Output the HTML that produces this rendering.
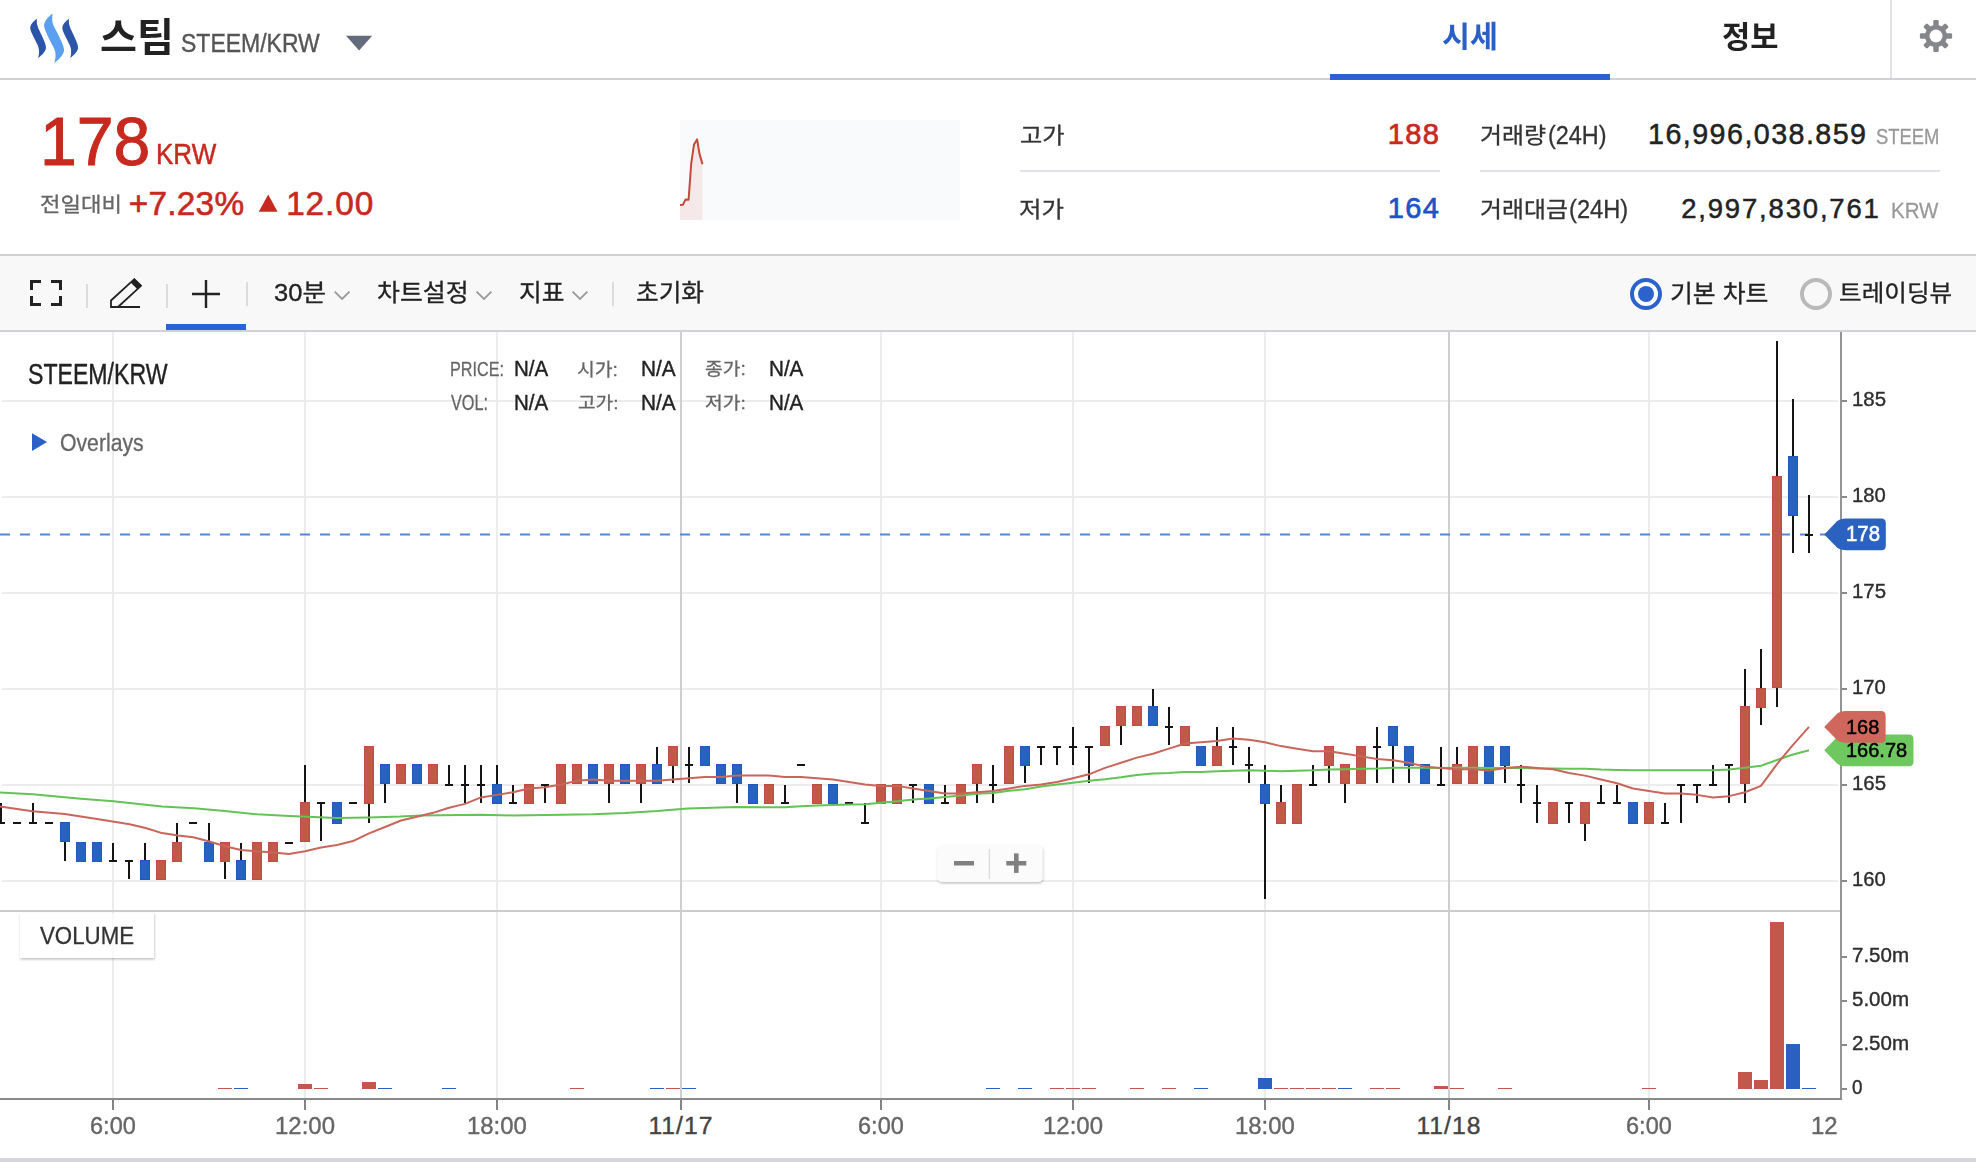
<!DOCTYPE html>
<html lang="ko">
<head>
<meta charset="utf-8">
<title>스팀 STEEM/KRW</title>
<style>
*{box-sizing:border-box;margin:0;padding:0}
html,body{width:1976px;height:1162px;overflow:hidden;background:#fff}
body{position:relative;font-family:"Liberation Sans","Noto Sans CJK KR",sans-serif;color:#222}
.a{position:absolute;white-space:nowrap;line-height:1;transform-origin:0 0}
.hl{position:absolute;left:0;width:1976px;height:2px;background:#d0d1d8}
#tb{position:absolute;left:0;top:256px;width:1976px;height:74px;background:#f8f8f8}
.sep{position:absolute;width:2px;background:#dcdcdc}
.dv{position:absolute;height:2px;background:#e1e3e9}
svg{position:absolute;left:0;top:0}
#xax{position:absolute;left:0;top:1100px;width:1839px;height:58px;overflow:hidden}
#xax .a{margin-top:-1100px}
</style>
</head>
<body>
<!-- header -->
<svg width="90" height="78" viewBox="0 0 90 78">
 <path id="lw" d="M36.9 18.8 C33.2 21.4 30.4 24.6 30.2 27.6 C30 30.5 33.2 36 37.6 45 C39.4 48.8 39.5 53 38.2 57.9 C41.8 55.2 45.2 51.6 45.9 48.4 C46.6 45 43 38 38.4 28.4 C37 25.4 36.5 22.4 36.9 18.8Z" fill="#2a55a8"/>
 <path d="M52.6 13.6 C48 17 44.5 21 44.1 25 C43.8 28.6 47.4 35.6 53.6 47.4 C56.2 52.6 56 57.6 54.2 63.1 C59 59.6 63.2 55 64 51 C64.8 46.8 60 38 53.8 26.2 C52 22.4 51.9 18.2 52.6 13.6Z" fill="#5b9ff0"/>
 <path d="M36.9 18.8 C33.2 21.4 30.4 24.6 30.2 27.6 C30 30.5 33.2 36 37.6 45 C39.4 48.8 39.5 53 38.2 57.9 C41.8 55.2 45.2 51.6 45.9 48.4 C46.6 45 43 38 38.4 28.4 C37 25.4 36.5 22.4 36.9 18.8Z" fill="#2a55a8" transform="translate(32.1 0)"/>
</svg>
<div class="a" id="t_name" style="left:99.9px;top:18.6px;font-size:38.51px;color:#222;font-weight:700;transform:scaleX(1.0431)">스팀</div>
<div class="a" id="t_pair" style="left:180.96px;top:30.13px;font-size:26.23px;color:#555;transform:scaleX(0.8770);-webkit-text-stroke:0.4px #555">STEEM/KRW</div>
<div class="a" id="t_tab1" style="left:1441.69px;top:22.29px;font-size:29.62px;color:#2a5fc8;font-weight:700;transform:scaleX(1.0275)">시세</div>
<div class="a" id="t_tab2" style="left:1721.58px;top:21.75px;font-size:30.65px;color:#222;font-weight:700;transform:scaleX(1.0021)">정보</div>
<svg width="30" height="18" style="left:344px;top:34px"><path d="M2 1.8 H28.2 L15.1 16.4 Z" fill="#646b7c"/></svg>
<div style="position:absolute;left:1330px;top:74px;width:280px;height:6px;background:#2a62d0;z-index:2"></div>
<div class="sep" style="left:1890px;top:0;height:78px;background:#e2e2e8"></div>
<svg width="40" height="40" viewBox="-20 -20 40 40" style="left:1916px;top:16px">
 <defs><filter id="gb" x="-20%" y="-20%" width="140%" height="140%"><feGaussianBlur stdDeviation="0.45"/></filter>
 <mask id="gm"><rect x="-20" y="-20" width="40" height="40" fill="#fff"/><circle r="6.5" fill="#000"/></mask></defs>
 <g fill="#84868c" filter="url(#gb)" mask="url(#gm)"><circle r="11"/><rect x="-2.7" y="-16.1" width="5.4" height="8" rx="1.3" transform="rotate(0)"/><rect x="-2.7" y="-15.6" width="5.4" height="8" rx="1.3" transform="rotate(45)"/><rect x="-2.7" y="-16.1" width="5.4" height="8" rx="1.3" transform="rotate(90)"/><rect x="-2.7" y="-15.6" width="5.4" height="8" rx="1.3" transform="rotate(135)"/><rect x="-2.7" y="-16.1" width="5.4" height="8" rx="1.3" transform="rotate(180)"/><rect x="-2.7" y="-15.6" width="5.4" height="8" rx="1.3" transform="rotate(225)"/><rect x="-2.7" y="-16.1" width="5.4" height="8" rx="1.3" transform="rotate(270)"/><rect x="-2.7" y="-15.6" width="5.4" height="8" rx="1.3" transform="rotate(315)"/></g>
</svg>
<div class="hl" style="top:78px"></div>

<!-- summary -->
<div class="a" id="s_price" style="left:39.7px;top:107.93px;font-size:68.73px;color:#c8291f;transform:scaleX(0.9625);-webkit-text-stroke:1.0px #c8291f">178</div>
<div class="a" id="s_krw" style="left:155.91px;top:139.12px;font-size:29.57px;color:#c8291f;transform:scaleX(0.8799);-webkit-text-stroke:0.5px #c8291f">KRW</div>
<div class="a" id="s_lbl" style="left:39.69px;top:194.83px;font-size:20.76px;color:#666;transform:scaleX(1.0718);-webkit-text-stroke:0.3px #666">전일대비</div>
<div class="a" id="s_pct" style="left:128.63px;top:186.76px;font-size:33.38px;color:#c8291f;letter-spacing:0.276px;-webkit-text-stroke:0.6px #c8291f">+7.23%</div>
<div class="a" id="s_chg" style="left:286.2px;top:186.76px;font-size:33.38px;color:#c8291f;letter-spacing:0.874px;-webkit-text-stroke:0.6px #c8291f">12.00</div>
<div class="a" id="h_lbl" style="left:1019.9px;top:124.51px;font-size:22.14px;color:#333;transform:scaleX(1.0943);-webkit-text-stroke:0.3px #333">고가</div>
<div class="a" id="h_val" style="left:1387.71px;top:119.97px;font-size:29.15px;color:#c8291f;letter-spacing:1.274px;-webkit-text-stroke:0.7px #c8291f">188</div>
<div class="a" id="l_lbl" style="left:1018.56px;top:198.84px;font-size:21.8px;color:#333;transform:scaleX(1.1207);-webkit-text-stroke:0.3px #333">저가</div>
<div class="a" id="l_val" style="left:1387.77px;top:193.88px;font-size:29.02px;color:#1f52c4;letter-spacing:1.372px;-webkit-text-stroke:0.7px #1f52c4">164</div>
<div class="a" id="v_lbl" style="left:1479.71px;top:124.69px;font-size:21.84px;color:#333;transform:scaleX(1.0955);-webkit-text-stroke:0.3px #333">거래량</div>
<div class="a" id="v_lbe" style="left:1547.89px;top:122.71px;font-size:25.43px;color:#333;transform:scaleX(0.9212);-webkit-text-stroke:0.3px #333">(24H)</div>
<div class="a" id="v_val" style="left:1648.05px;top:119.73px;font-size:28.73px;color:#222;letter-spacing:1.417px;-webkit-text-stroke:0.5px #222">16,996,038.859</div>
<div class="a" id="v_unit" style="left:1875.57px;top:126.02px;font-size:21.16px;color:#999;transform:scaleX(0.8703);-webkit-text-stroke:0.3px #999">STEEM</div>
<div class="a" id="a_lbl" style="left:1479.71px;top:198.69px;font-size:21.84px;color:#333;transform:scaleX(1.0941);-webkit-text-stroke:0.3px #333">거래대금</div>
<div class="a" id="a_lbe" style="left:1568.78px;top:196.71px;font-size:25.43px;color:#333;transform:scaleX(0.9306);-webkit-text-stroke:0.3px #333">(24H)</div>
<div class="a" id="a_val" style="left:1681.13px;top:194.52px;font-size:27.46px;color:#222;letter-spacing:1.849px;-webkit-text-stroke:0.5px #222">2,997,830,761</div>
<div class="a" id="a_unit" style="left:1890.96px;top:199.64px;font-size:22.32px;color:#999;transform:scaleX(0.9182);-webkit-text-stroke:0.3px #999">KRW</div>
<svg width="22" height="20" style="left:258px;top:194px"><path d="M0.8 17.8 L10.2 0.6 L19.6 17.8 Z" fill="#c8291f"/></svg>
<svg width="280" height="100" style="left:680px;top:120px">
 <rect width="280" height="100" fill="#f9fafc"/>
 <path d="M0 85 L2.9 84.8 L5.5 79.6 L8.6 79.8 L11.2 43.7 L14 24.6 L17.1 19.4 L19.4 33.4 L22.5 44.2 V100 H0Z" fill="#f4e8e8"/>
 <path d="M0 85 L2.9 84.8 L5.5 79.6 L8.6 79.8 L11.2 43.7 L14 24.6 L17.1 19.4 L19.4 33.4 L22.5 44.2" fill="none" stroke="#c4483c" stroke-width="2" stroke-linejoin="round"/>
</svg>
<div class="dv" style="left:1020px;top:170px;width:420px"></div>
<div class="dv" style="left:1480px;top:170px;width:460px"></div>

<!-- toolbar -->
<div class="hl" style="top:254px"></div>
<div id="tb"></div>
<div class="hl" style="top:330px"></div>
<svg width="260" height="74" viewBox="0 256 260 74" style="left:0;top:256px">
 <g fill="none" stroke="#222" stroke-width="3">
  <path d="M31.5 290 V281.5 H41"/><path d="M51 281.5 H60.5 V290"/>
  <path d="M31.5 296 V304.5 H41"/><path d="M51 304.5 H60.5 V296"/>
 </g>
 <g fill="none" stroke="#222" stroke-width="1.8" stroke-linejoin="miter">
  <path d="M140 307 H111 V300.5 L134.3 279.2 L141 285.8 L118 307"/>
 </g>
 <path d="M130.6 282.4 L134.3 278.6 L141.7 285.6 L137.6 289.4 Z" fill="#222"/>
 <path d="M192 294 H220 M206 280 V308" stroke="#222" stroke-width="2.4" fill="none"/>
</svg>
<div class="sep" style="left:86px;top:284px;height:24px"></div>
<div class="sep" style="left:166px;top:284px;height:24px"></div>
<div class="sep" style="left:246px;top:282px;height:24px"></div>
<div class="sep" style="left:612px;top:282px;height:24px"></div>
<div style="position:absolute;left:166px;top:324px;width:80px;height:6px;background:#2a62d8"></div>
<div class="a" id="b_30" style="left:273.59px;top:280.82px;font-size:23.83px;color:#222;transform:scaleX(1.0720);-webkit-text-stroke:0.3px #222">30분</div>
<div class="a" id="b_set" style="left:376.6px;top:281.09px;font-size:24.06px;color:#222;transform:scaleX(1.0357);-webkit-text-stroke:0.3px #222">차트설정</div>
<div class="a" id="b_ind" style="left:518.63px;top:280.83px;font-size:24.36px;color:#222;transform:scaleX(1.0144);-webkit-text-stroke:0.3px #222">지표</div>
<div class="a" id="b_rst" style="left:635.77px;top:281.09px;font-size:24.06px;color:#222;transform:scaleX(1.0253);-webkit-text-stroke:0.3px #222">초기화</div>
<div class="a" id="r_1" style="left:1669.68px;top:281.83px;font-size:24.36px;color:#222;transform:scaleX(1.0206);-webkit-text-stroke:0.3px #222">기본 차트</div>
<div class="a" id="r_2" style="left:1838.87px;top:282.23px;font-size:22.95px;color:#222;transform:scaleX(1.0722);-webkit-text-stroke:0.3px #222">트레이딩뷰</div>
<svg width="600" height="20" viewBox="0 286 600 20" style="left:0;top:286px">
 <g fill="none" stroke="#999" stroke-width="1.8">
  <path d="M334.7 291.6 L342.1 299 L349.5 291.6"/><path d="M476.6 291.6 L484 299 L491.4 291.6"/><path d="M572.6 291.6 L580 299 L587.4 291.6"/>
 </g>
</svg>
<svg width="240" height="40" viewBox="1620 274 240 40" style="left:1620px;top:274px">
 <circle cx="1646" cy="294" r="14" fill="#fff" stroke="#2c62cd" stroke-width="4"/>
 <circle cx="1646" cy="294" r="8" fill="#2c62cd"/>
 <circle cx="1816" cy="294" r="14" fill="#f8f8f8" stroke="#b9b9b9" stroke-width="4"/>
</svg>

<!-- chart -->
<svg width="1976" height="1162" viewBox="0 0 1976 1162">
<defs><filter id="sh" x="-10%" y="-20%" width="120%" height="150%"><feDropShadow dx="0.5" dy="1.5" stdDeviation="1.3" flood-color="#000" flood-opacity=".25"/></filter></defs>
<rect x="2" y="400" width="1836" height="2" fill="#ececec"/>
<rect x="2" y="496" width="1836" height="2" fill="#ececec"/>
<rect x="2" y="592" width="1836" height="2" fill="#ececec"/>
<rect x="2" y="688" width="1836" height="2" fill="#ececec"/>
<rect x="2" y="784" width="1836" height="2" fill="#ececec"/>
<rect x="2" y="880" width="1836" height="2" fill="#ececec"/>
<rect x="112" y="332" width="2" height="766" fill="#ececec"/>
<rect x="304" y="332" width="2" height="766" fill="#ececec"/>
<rect x="496" y="332" width="2" height="766" fill="#ececec"/>
<rect x="880" y="332" width="2" height="766" fill="#ececec"/>
<rect x="1072" y="332" width="2" height="766" fill="#ececec"/>
<rect x="1264" y="332" width="2" height="766" fill="#ececec"/>
<rect x="1648" y="332" width="2" height="766" fill="#ececec"/>
<rect x="680" y="332" width="2" height="766" fill="#cfcfcf"/>
<rect x="1448" y="332" width="2" height="766" fill="#cfcfcf"/>
<rect x="0" y="910" width="1840" height="2" fill="#cccccc"/>
<rect x="218" y="1088" width="14" height="1" fill="#c2584b"/>
<rect x="234" y="1088" width="14" height="1" fill="#2a60bf"/>
<rect x="298" y="1084" width="14" height="5" fill="#c2584b"/>
<rect x="314" y="1088" width="14" height="1" fill="#c2584b"/>
<rect x="362" y="1082" width="14" height="7" fill="#c2584b"/>
<rect x="378" y="1088" width="14" height="1" fill="#2a60bf"/>
<rect x="442" y="1088" width="14" height="1" fill="#2a60bf"/>
<rect x="570" y="1088" width="14" height="1" fill="#c2584b"/>
<rect x="650" y="1088" width="14" height="1" fill="#2a60bf"/>
<rect x="666" y="1088" width="14" height="1" fill="#c2584b"/>
<rect x="682" y="1088" width="14" height="1" fill="#2a60bf"/>
<rect x="986" y="1088" width="14" height="1" fill="#2a60bf"/>
<rect x="1018" y="1088" width="14" height="1" fill="#2a60bf"/>
<rect x="1050" y="1088" width="14" height="1" fill="#c2584b"/>
<rect x="1066" y="1088" width="14" height="1" fill="#c2584b"/>
<rect x="1082" y="1088" width="14" height="1" fill="#c2584b"/>
<rect x="1130" y="1088" width="14" height="1" fill="#c2584b"/>
<rect x="1162" y="1088" width="14" height="1" fill="#c2584b"/>
<rect x="1194" y="1088" width="14" height="1" fill="#2a60bf"/>
<rect x="1258" y="1078" width="14" height="11" fill="#2a60bf"/>
<rect x="1274" y="1088" width="14" height="1" fill="#c2584b"/>
<rect x="1290" y="1088" width="14" height="1" fill="#c2584b"/>
<rect x="1306" y="1088" width="14" height="1" fill="#c2584b"/>
<rect x="1322" y="1088" width="14" height="1" fill="#c2584b"/>
<rect x="1338" y="1088" width="14" height="1" fill="#2a60bf"/>
<rect x="1370" y="1088" width="14" height="1" fill="#c2584b"/>
<rect x="1386" y="1088" width="14" height="1" fill="#c2584b"/>
<rect x="1434" y="1086" width="14" height="3" fill="#c2584b"/>
<rect x="1450" y="1088" width="14" height="1" fill="#c2584b"/>
<rect x="1498" y="1088" width="14" height="1" fill="#c2584b"/>
<rect x="1642" y="1088" width="14" height="1" fill="#c2584b"/>
<rect x="1738" y="1072" width="14" height="17" fill="#c2584b"/>
<rect x="1754" y="1080" width="14" height="9" fill="#c2584b"/>
<rect x="1770" y="922" width="14" height="167" fill="#c2584b"/>
<rect x="1786" y="1044" width="14" height="45" fill="#2a60bf"/>
<rect x="1802" y="1088" width="14" height="1" fill="#2a60bf"/>
<path d="M0 534.5H1826" stroke="#5585d6" stroke-width="2" stroke-dasharray="10 10" fill="none"/>
<rect x="0" y="803" width="2" height="21" fill="#151515"/>
<rect x="-3" y="822" width="8" height="2" fill="#151515"/>
<rect x="13" y="822" width="8" height="2" fill="#151515"/>
<rect x="32" y="803" width="2" height="21" fill="#151515"/>
<rect x="29" y="822" width="8" height="2" fill="#151515"/>
<rect x="45" y="822" width="8" height="2" fill="#151515"/>
<rect x="64" y="822" width="2" height="39" fill="#151515"/>
<rect x="60.5" y="822.5" width="9" height="19" fill="#2a60bf" stroke="#2058bd"/>
<rect x="80" y="842" width="2" height="20" fill="#151515"/>
<rect x="76.5" y="842.5" width="9" height="19" fill="#2a60bf" stroke="#2058bd"/>
<rect x="96" y="842" width="2" height="20" fill="#151515"/>
<rect x="92.5" y="842.5" width="9" height="19" fill="#2a60bf" stroke="#2058bd"/>
<rect x="112" y="843" width="2" height="19" fill="#151515"/>
<rect x="109" y="860" width="8" height="2" fill="#151515"/>
<rect x="128" y="860" width="2" height="19" fill="#151515"/>
<rect x="125" y="860" width="8" height="2" fill="#151515"/>
<rect x="144" y="843" width="2" height="37" fill="#151515"/>
<rect x="140.5" y="860.5" width="9" height="19" fill="#2a60bf" stroke="#2058bd"/>
<rect x="160" y="860" width="2" height="20" fill="#151515"/>
<rect x="156.5" y="860.5" width="9" height="19" fill="#c2584b" stroke="#bf4d3f"/>
<rect x="176" y="823" width="2" height="39" fill="#151515"/>
<rect x="172.5" y="842.5" width="9" height="19" fill="#c2584b" stroke="#bf4d3f"/>
<rect x="189" y="822" width="8" height="2" fill="#151515"/>
<rect x="208" y="823" width="2" height="39" fill="#151515"/>
<rect x="204.5" y="842.5" width="9" height="19" fill="#2a60bf" stroke="#2058bd"/>
<rect x="224" y="842" width="2" height="37" fill="#151515"/>
<rect x="220.5" y="842.5" width="9" height="19" fill="#c2584b" stroke="#bf4d3f"/>
<rect x="240" y="843" width="2" height="37" fill="#151515"/>
<rect x="236.5" y="860.5" width="9" height="19" fill="#2a60bf" stroke="#2058bd"/>
<rect x="256" y="842" width="2" height="38" fill="#151515"/>
<rect x="252.5" y="842.5" width="9" height="37" fill="#c2584b" stroke="#bf4d3f"/>
<rect x="272" y="842" width="2" height="20" fill="#151515"/>
<rect x="268.5" y="842.5" width="9" height="19" fill="#c2584b" stroke="#bf4d3f"/>
<rect x="285" y="842" width="8" height="2" fill="#151515"/>
<rect x="304" y="765" width="2" height="77" fill="#151515"/>
<rect x="300.5" y="802.5" width="9" height="39" fill="#c2584b" stroke="#bf4d3f"/>
<rect x="320" y="802" width="2" height="39" fill="#151515"/>
<rect x="317" y="802" width="8" height="2" fill="#151515"/>
<rect x="336" y="802" width="2" height="22" fill="#151515"/>
<rect x="332.5" y="802.5" width="9" height="21" fill="#2a60bf" stroke="#2058bd"/>
<rect x="349" y="802" width="8" height="2" fill="#151515"/>
<rect x="368" y="746" width="2" height="77" fill="#151515"/>
<rect x="364.5" y="746.5" width="9" height="57" fill="#c2584b" stroke="#bf4d3f"/>
<rect x="384" y="764" width="2" height="39" fill="#151515"/>
<rect x="380.5" y="764.5" width="9" height="19" fill="#2a60bf" stroke="#2058bd"/>
<rect x="400" y="764" width="2" height="20" fill="#151515"/>
<rect x="396.5" y="764.5" width="9" height="19" fill="#c2584b" stroke="#bf4d3f"/>
<rect x="416" y="764" width="2" height="20" fill="#151515"/>
<rect x="412.5" y="764.5" width="9" height="19" fill="#2a60bf" stroke="#2058bd"/>
<rect x="432" y="764" width="2" height="20" fill="#151515"/>
<rect x="428.5" y="764.5" width="9" height="19" fill="#c2584b" stroke="#bf4d3f"/>
<rect x="448" y="765" width="2" height="21" fill="#151515"/>
<rect x="445" y="784" width="8" height="2" fill="#151515"/>
<rect x="464" y="765" width="2" height="38" fill="#151515"/>
<rect x="461" y="784" width="8" height="2" fill="#151515"/>
<rect x="480" y="765" width="2" height="38" fill="#151515"/>
<rect x="477" y="784" width="8" height="2" fill="#151515"/>
<rect x="496" y="765" width="2" height="39" fill="#151515"/>
<rect x="492.5" y="784.5" width="9" height="19" fill="#2a60bf" stroke="#2058bd"/>
<rect x="512" y="785" width="2" height="19" fill="#151515"/>
<rect x="509" y="802" width="8" height="2" fill="#151515"/>
<rect x="528" y="784" width="2" height="20" fill="#151515"/>
<rect x="524.5" y="784.5" width="9" height="19" fill="#c2584b" stroke="#bf4d3f"/>
<rect x="544" y="784" width="2" height="19" fill="#151515"/>
<rect x="541" y="784" width="8" height="2" fill="#151515"/>
<rect x="560" y="764" width="2" height="40" fill="#151515"/>
<rect x="556.5" y="764.5" width="9" height="39" fill="#c2584b" stroke="#bf4d3f"/>
<rect x="576" y="764" width="2" height="20" fill="#151515"/>
<rect x="572.5" y="764.5" width="9" height="19" fill="#c2584b" stroke="#bf4d3f"/>
<rect x="592" y="764" width="2" height="20" fill="#151515"/>
<rect x="588.5" y="764.5" width="9" height="19" fill="#2a60bf" stroke="#2058bd"/>
<rect x="608" y="764" width="2" height="39" fill="#151515"/>
<rect x="604.5" y="764.5" width="9" height="19" fill="#c2584b" stroke="#bf4d3f"/>
<rect x="624" y="764" width="2" height="20" fill="#151515"/>
<rect x="620.5" y="764.5" width="9" height="19" fill="#2a60bf" stroke="#2058bd"/>
<rect x="640" y="764" width="2" height="39" fill="#151515"/>
<rect x="636.5" y="764.5" width="9" height="19" fill="#c2584b" stroke="#bf4d3f"/>
<rect x="656" y="747" width="2" height="37" fill="#151515"/>
<rect x="652.5" y="764.5" width="9" height="19" fill="#2a60bf" stroke="#2058bd"/>
<rect x="672" y="746" width="2" height="37" fill="#151515"/>
<rect x="668.5" y="746.5" width="9" height="19" fill="#c2584b" stroke="#bf4d3f"/>
<rect x="688" y="747" width="2" height="36" fill="#151515"/>
<rect x="685" y="764" width="8" height="2" fill="#151515"/>
<rect x="704" y="746" width="2" height="20" fill="#151515"/>
<rect x="700.5" y="746.5" width="9" height="19" fill="#2a60bf" stroke="#2058bd"/>
<rect x="720" y="764" width="2" height="20" fill="#151515"/>
<rect x="716.5" y="764.5" width="9" height="19" fill="#2a60bf" stroke="#2058bd"/>
<rect x="736" y="764" width="2" height="39" fill="#151515"/>
<rect x="732.5" y="764.5" width="9" height="19" fill="#2a60bf" stroke="#2058bd"/>
<rect x="752" y="784" width="2" height="20" fill="#151515"/>
<rect x="748.5" y="784.5" width="9" height="19" fill="#2a60bf" stroke="#2058bd"/>
<rect x="768" y="784" width="2" height="20" fill="#151515"/>
<rect x="764.5" y="784.5" width="9" height="19" fill="#c2584b" stroke="#bf4d3f"/>
<rect x="784" y="785" width="2" height="19" fill="#151515"/>
<rect x="781" y="802" width="8" height="2" fill="#151515"/>
<rect x="797" y="764" width="8" height="2" fill="#151515"/>
<rect x="816" y="784" width="2" height="20" fill="#151515"/>
<rect x="812.5" y="784.5" width="9" height="19" fill="#c2584b" stroke="#bf4d3f"/>
<rect x="832" y="784" width="2" height="20" fill="#151515"/>
<rect x="828.5" y="784.5" width="9" height="19" fill="#2a60bf" stroke="#2058bd"/>
<rect x="845" y="802" width="8" height="2" fill="#151515"/>
<rect x="864" y="803" width="2" height="21" fill="#151515"/>
<rect x="861" y="822" width="8" height="2" fill="#151515"/>
<rect x="880" y="784" width="2" height="20" fill="#151515"/>
<rect x="876.5" y="784.5" width="9" height="19" fill="#c2584b" stroke="#bf4d3f"/>
<rect x="896" y="784" width="2" height="20" fill="#151515"/>
<rect x="892.5" y="784.5" width="9" height="19" fill="#c2584b" stroke="#bf4d3f"/>
<rect x="912" y="784" width="2" height="19" fill="#151515"/>
<rect x="909" y="784" width="8" height="2" fill="#151515"/>
<rect x="928" y="784" width="2" height="20" fill="#151515"/>
<rect x="924.5" y="784.5" width="9" height="19" fill="#2a60bf" stroke="#2058bd"/>
<rect x="944" y="785" width="2" height="19" fill="#151515"/>
<rect x="941" y="802" width="8" height="2" fill="#151515"/>
<rect x="960" y="784" width="2" height="20" fill="#151515"/>
<rect x="956.5" y="784.5" width="9" height="19" fill="#c2584b" stroke="#bf4d3f"/>
<rect x="976" y="764" width="2" height="39" fill="#151515"/>
<rect x="972.5" y="764.5" width="9" height="19" fill="#c2584b" stroke="#bf4d3f"/>
<rect x="992" y="765" width="2" height="38" fill="#151515"/>
<rect x="989" y="784" width="8" height="2" fill="#151515"/>
<rect x="1008" y="746" width="2" height="38" fill="#151515"/>
<rect x="1004.5" y="746.5" width="9" height="37" fill="#c2584b" stroke="#bf4d3f"/>
<rect x="1024" y="746" width="2" height="37" fill="#151515"/>
<rect x="1020.5" y="746.5" width="9" height="19" fill="#2a60bf" stroke="#2058bd"/>
<rect x="1040" y="746" width="2" height="19" fill="#151515"/>
<rect x="1037" y="746" width="8" height="2" fill="#151515"/>
<rect x="1056" y="746" width="2" height="19" fill="#151515"/>
<rect x="1053" y="746" width="8" height="2" fill="#151515"/>
<rect x="1072" y="727" width="2" height="38" fill="#151515"/>
<rect x="1069" y="746" width="8" height="2" fill="#151515"/>
<rect x="1088" y="746" width="2" height="37" fill="#151515"/>
<rect x="1085" y="746" width="8" height="2" fill="#151515"/>
<rect x="1104" y="726" width="2" height="20" fill="#151515"/>
<rect x="1100.5" y="726.5" width="9" height="19" fill="#c2584b" stroke="#bf4d3f"/>
<rect x="1120" y="706" width="2" height="39" fill="#151515"/>
<rect x="1116.5" y="706.5" width="9" height="19" fill="#c2584b" stroke="#bf4d3f"/>
<rect x="1136" y="706" width="2" height="20" fill="#151515"/>
<rect x="1132.5" y="706.5" width="9" height="19" fill="#c2584b" stroke="#bf4d3f"/>
<rect x="1152" y="689" width="2" height="37" fill="#151515"/>
<rect x="1148.5" y="706.5" width="9" height="19" fill="#2a60bf" stroke="#2058bd"/>
<rect x="1168" y="707" width="2" height="38" fill="#151515"/>
<rect x="1165" y="726" width="8" height="2" fill="#151515"/>
<rect x="1184" y="726" width="2" height="20" fill="#151515"/>
<rect x="1180.5" y="726.5" width="9" height="19" fill="#c2584b" stroke="#bf4d3f"/>
<rect x="1200" y="746" width="2" height="20" fill="#151515"/>
<rect x="1196.5" y="746.5" width="9" height="19" fill="#2a60bf" stroke="#2058bd"/>
<rect x="1216" y="727" width="2" height="39" fill="#151515"/>
<rect x="1212.5" y="746.5" width="9" height="19" fill="#c2584b" stroke="#bf4d3f"/>
<rect x="1232" y="727" width="2" height="38" fill="#151515"/>
<rect x="1229" y="746" width="8" height="2" fill="#151515"/>
<rect x="1248" y="747" width="2" height="36" fill="#151515"/>
<rect x="1245" y="764" width="8" height="2" fill="#151515"/>
<rect x="1264" y="765" width="2" height="134" fill="#151515"/>
<rect x="1260.5" y="784.5" width="9" height="19" fill="#2a60bf" stroke="#2058bd"/>
<rect x="1280" y="785" width="2" height="39" fill="#151515"/>
<rect x="1276.5" y="802.5" width="9" height="21" fill="#c2584b" stroke="#bf4d3f"/>
<rect x="1296" y="784" width="2" height="40" fill="#151515"/>
<rect x="1292.5" y="784.5" width="9" height="39" fill="#c2584b" stroke="#bf4d3f"/>
<rect x="1312" y="765" width="2" height="21" fill="#151515"/>
<rect x="1309" y="784" width="8" height="2" fill="#151515"/>
<rect x="1328" y="746" width="2" height="37" fill="#151515"/>
<rect x="1324.5" y="746.5" width="9" height="19" fill="#c2584b" stroke="#bf4d3f"/>
<rect x="1344" y="764" width="2" height="39" fill="#151515"/>
<rect x="1340.5" y="764.5" width="9" height="19" fill="#c2584b" stroke="#bf4d3f"/>
<rect x="1360" y="746" width="2" height="38" fill="#151515"/>
<rect x="1356.5" y="746.5" width="9" height="37" fill="#c2584b" stroke="#bf4d3f"/>
<rect x="1376" y="727" width="2" height="56" fill="#151515"/>
<rect x="1373" y="746" width="8" height="2" fill="#151515"/>
<rect x="1392" y="726" width="2" height="57" fill="#151515"/>
<rect x="1388.5" y="726.5" width="9" height="19" fill="#2a60bf" stroke="#2058bd"/>
<rect x="1408" y="746" width="2" height="37" fill="#151515"/>
<rect x="1404.5" y="746.5" width="9" height="19" fill="#2a60bf" stroke="#2058bd"/>
<rect x="1424" y="764" width="2" height="20" fill="#151515"/>
<rect x="1420.5" y="764.5" width="9" height="19" fill="#2a60bf" stroke="#2058bd"/>
<rect x="1440" y="747" width="2" height="39" fill="#151515"/>
<rect x="1437" y="784" width="8" height="2" fill="#151515"/>
<rect x="1456" y="747" width="2" height="37" fill="#151515"/>
<rect x="1452.5" y="764.5" width="9" height="19" fill="#c2584b" stroke="#bf4d3f"/>
<rect x="1472" y="746" width="2" height="38" fill="#151515"/>
<rect x="1468.5" y="746.5" width="9" height="37" fill="#c2584b" stroke="#bf4d3f"/>
<rect x="1488" y="746" width="2" height="38" fill="#151515"/>
<rect x="1484.5" y="746.5" width="9" height="37" fill="#2a60bf" stroke="#2058bd"/>
<rect x="1504" y="746" width="2" height="37" fill="#151515"/>
<rect x="1500.5" y="746.5" width="9" height="19" fill="#2a60bf" stroke="#2058bd"/>
<rect x="1520" y="765" width="2" height="38" fill="#151515"/>
<rect x="1517" y="784" width="8" height="2" fill="#151515"/>
<rect x="1536" y="785" width="2" height="38" fill="#151515"/>
<rect x="1533" y="802" width="8" height="2" fill="#151515"/>
<rect x="1552" y="802" width="2" height="22" fill="#151515"/>
<rect x="1548.5" y="802.5" width="9" height="21" fill="#c2584b" stroke="#bf4d3f"/>
<rect x="1568" y="802" width="2" height="21" fill="#151515"/>
<rect x="1565" y="802" width="8" height="2" fill="#151515"/>
<rect x="1584" y="802" width="2" height="39" fill="#151515"/>
<rect x="1580.5" y="802.5" width="9" height="21" fill="#c2584b" stroke="#bf4d3f"/>
<rect x="1600" y="785" width="2" height="19" fill="#151515"/>
<rect x="1597" y="802" width="8" height="2" fill="#151515"/>
<rect x="1616" y="785" width="2" height="19" fill="#151515"/>
<rect x="1613" y="802" width="8" height="2" fill="#151515"/>
<rect x="1632" y="802" width="2" height="22" fill="#151515"/>
<rect x="1628.5" y="802.5" width="9" height="21" fill="#2a60bf" stroke="#2058bd"/>
<rect x="1648" y="802" width="2" height="22" fill="#151515"/>
<rect x="1644.5" y="802.5" width="9" height="21" fill="#c2584b" stroke="#bf4d3f"/>
<rect x="1664" y="803" width="2" height="21" fill="#151515"/>
<rect x="1661" y="822" width="8" height="2" fill="#151515"/>
<rect x="1680" y="784" width="2" height="39" fill="#151515"/>
<rect x="1677" y="784" width="8" height="2" fill="#151515"/>
<rect x="1696" y="784" width="2" height="19" fill="#151515"/>
<rect x="1693" y="784" width="8" height="2" fill="#151515"/>
<rect x="1712" y="765" width="2" height="21" fill="#151515"/>
<rect x="1709" y="784" width="8" height="2" fill="#151515"/>
<rect x="1728" y="764" width="2" height="39" fill="#151515"/>
<rect x="1725" y="764" width="8" height="2" fill="#151515"/>
<rect x="1744" y="669" width="2" height="134" fill="#151515"/>
<rect x="1740.5" y="706.5" width="9" height="77" fill="#c2584b" stroke="#bf4d3f"/>
<rect x="1760" y="649" width="2" height="76" fill="#151515"/>
<rect x="1756.5" y="688.5" width="9" height="19" fill="#c2584b" stroke="#bf4d3f"/>
<rect x="1776" y="341" width="2" height="366" fill="#151515"/>
<rect x="1772.5" y="476.5" width="9" height="211" fill="#c2584b" stroke="#bf4d3f"/>
<rect x="1792" y="399" width="2" height="154" fill="#151515"/>
<rect x="1788.5" y="456.5" width="9" height="59" fill="#2a60bf" stroke="#2058bd"/>
<rect x="1808" y="495" width="2" height="58" fill="#151515"/>
<rect x="1805" y="534" width="8" height="2" fill="#151515"/>
<polyline points="0,792.6 32.4,794.3 81,798.7 113.4,801.3 162,806.4 194,808.2 224.7,810.9 257,814.3 289.5,816.1 337,817.9 368.4,817.5 400,816.6 420.5,815.5 481,814.7 513.6,815.5 562,814.7 592.6,814.3 625,813.1 657.3,811.1 687.7,808.5 736.3,807 769,807.2 785,807.32 801,806.16 817,805.39 833,805.01 849,804.62 865,804.24 881,802.69 897,801.16 913,799.62 929,798.46 945,796.92 961,795.38 977,793.84 993,793.07 1009,790.76 1025,789.22 1041,786.52 1057,784.6 1073,782.68 1089,780.75 1105,779.21 1121,777.29 1137,774.98 1153,773.43 1169,773.05 1185,771.9 1201,771.9 1217,771.13 1233,770.74 1249,770.35 1265,770.74 1281,771.13 1297,770.74 1313,770.35 1329,769.59 1345,769.2 1361,768.82 1377,768.43 1393,767.66 1409,767.66 1425,767.66 1441,768.04 1457,767.66 1473,767.66 1489,768.04 1505,768.04 1521,768.04 1537,768.43 1553,768.43 1569,768.82 1585,768.82 1601,769.59 1617,769.97 1633,770.35 1649,770.35 1665,770.35 1681,770.35 1697,770.35 1713,770.35 1729,769.59 1745,767.66 1761,765.74 1777,759.96 1793,754.57 1809,750.34" fill="none" stroke="#63c356" stroke-width="2" stroke-linejoin="round"/>
<polyline points="0,806.4 32.4,811.3 64.8,813.9 97,819 129.6,824.2 145.7,828 162,833.1 178,835.5 193.3,837.2 208.5,841.2 225,846.2 241,850.05 257,851.33 273,852.62 289,853.9 305,851.33 321,847.48 337,844.92 353,841.07 369,833.37 385,826.95 401,820.53 417,816.68 433,812.83 449,807.7 465,803.85 481,797.43 497,794.87 513,792.3 529,788.45 545,787.17 561,784.6 577,780.75 593,779.47 609,780.75 625,780.75 641,780.75 657,780.75 673,779.47 689,778.18 705,776.9 721,776.9 737,775.62 753,775.62 769,775.62 785,776.9 801,776.9 817,778.18 833,779.47 849,782.03 865,784.6 881,785.88 897,785.88 913,788.45 929,791.02 945,793.58 961,793.58 977,792.3 993,791.02 1009,788.45 1025,785.88 1041,784.6 1057,782.03 1073,778.18 1089,774.33 1105,767.92 1121,762.78 1137,757.65 1153,753.8 1169,748.67 1185,743.53 1201,742.25 1217,740.97 1233,738.4 1249,739.68 1265,742.25 1281,746.1 1297,748.67 1313,751.23 1329,751.23 1345,753.8 1361,756.37 1377,758.93 1393,760.22 1409,762.78 1425,766.63 1441,767.92 1457,769.2 1473,769.2 1489,770.48 1505,767.92 1521,766.63 1537,767.92 1553,769.2 1569,773.05 1585,775.62 1601,779.47 1617,783.32 1633,788.45 1649,791.02 1665,793.58 1681,793.58 1697,794.87 1713,797.43 1729,796.15 1745,792.3 1761,785.88 1777,764.07 1793,744.82 1809,726.85" fill="none" stroke="#c9655b" stroke-width="2" stroke-linejoin="round"/>
<rect x="1840" y="332" width="2" height="768" fill="#949494"/>
<rect x="0" y="1098" width="1842" height="2" fill="#8a8a8a"/>
<rect x="1842" y="397" width="5" height="2" fill="#8a8a8a" transform="translate(0 3)"/>
<rect x="1842" y="493" width="5" height="2" fill="#8a8a8a" transform="translate(0 3)"/>
<rect x="1842" y="589" width="5" height="2" fill="#8a8a8a" transform="translate(0 3)"/>
<rect x="1842" y="685" width="5" height="2" fill="#8a8a8a" transform="translate(0 3)"/>
<rect x="1842" y="781" width="5" height="2" fill="#8a8a8a" transform="translate(0 3)"/>
<rect x="1842" y="877" width="5" height="2" fill="#8a8a8a" transform="translate(0 3)"/>
<rect x="1842" y="956" width="5" height="2" fill="#8a8a8a"/>
<rect x="1842" y="1000" width="5" height="2" fill="#8a8a8a"/>
<rect x="1842" y="1044" width="5" height="2" fill="#8a8a8a"/>
<rect x="1842" y="1088" width="5" height="2" fill="#8a8a8a"/>
<rect x="112" y="1100" width="2" height="10" fill="#858585"/>
<rect x="304" y="1100" width="2" height="10" fill="#858585"/>
<rect x="496" y="1100" width="2" height="10" fill="#858585"/>
<rect x="680" y="1100" width="2" height="10" fill="#858585"/>
<rect x="880" y="1100" width="2" height="10" fill="#858585"/>
<rect x="1072" y="1100" width="2" height="10" fill="#858585"/>
<rect x="1264" y="1100" width="2" height="10" fill="#858585"/>
<rect x="1448" y="1100" width="2" height="10" fill="#858585"/>
<rect x="1648" y="1100" width="2" height="10" fill="#858585"/>
<path d="M1824.2 750.3 L1837 737.2 Q1840.5 734.4 1846 734.4 H1909 Q1913.5 734.4 1913.5 738.9 V761.7 Q1913.5 766.2 1909 766.2 H1846 Q1840.5 766.2 1837 763.4 Z" fill="#6ec75f"/>
<path d="M1824.2 726.9 L1837 713.8 Q1840.5 711 1846 711 H1881.1 Q1885.6 711 1885.6 715.5 V738.3 Q1885.6 742.8 1881.1 742.8 H1846 Q1840.5 742.8 1837 740 Z" fill="#cf675c"/>
<path d="M1824.2 534.4 L1837 521.3 Q1840.5 518.5 1846 518.5 H1881.3 Q1885.8 518.5 1885.8 523 V545.8 Q1885.8 550.3 1881.3 550.3 H1846 Q1840.5 550.3 1837 547.5 Z" fill="#2b62c0"/>
<path d="M32 433.3 L47 442.1 L32 450.9 Z" fill="#2a5fc8"/>
<rect x="20" y="913" width="134" height="45" fill="#fff" filter="url(#sh)"/>
<rect x="112" y="913" width="2" height="45" fill="#ececec" fill-opacity=".3"/>
<rect x="937.5" y="845" width="105" height="37" rx="4.5" fill="#fbfbfb" filter="url(#sh)"/>
<rect x="988.7" y="849" width="1.4" height="30" fill="#dcdcdc"/>
<rect x="954" y="861" width="20" height="4.5" fill="#808080"/>
<rect x="1006.3" y="861" width="20" height="4.5" fill="#808080"/>
<rect x="1014" y="853.4" width="4.6" height="19.5" fill="#808080"/>
</svg>
<div class="a" id="c_sym" style="left:27.76px;top:359.73px;font-size:28.84px;color:#222;transform:scaleX(0.8017);-webkit-text-stroke:0.4px #222">STEEM/KRW</div>
<div class="a" id="c_ovl" style="left:59.55px;top:431.65px;font-size:23.1px;color:#666;transform:scaleX(0.9185);-webkit-text-stroke:0.3px #666">Overlays</div>
<div class="a" id="c_price" style="left:449.9px;top:358.77px;font-size:20.87px;color:#666;transform:scaleX(0.7756);-webkit-text-stroke:0.3px #666">PRICE:</div>
<div class="a" id="c_vol" style="left:450.62px;top:392.83px;font-size:21.43px;color:#666;transform:scaleX(0.7596);-webkit-text-stroke:0.3px #666">VOL:</div>
<div class="a" id="c_na1" style="left:513.93px;top:358.78px;font-size:21.45px;color:#222;transform:scaleX(0.9582);-webkit-text-stroke:0.4px #222">N/A</div>
<div class="a" id="c_na2" style="left:640.63px;top:358.78px;font-size:21.45px;color:#222;transform:scaleX(0.9702);-webkit-text-stroke:0.4px #222">N/A</div>
<div class="a" id="c_na3" style="left:768.54px;top:358.78px;font-size:21.45px;color:#222;transform:scaleX(0.9615);-webkit-text-stroke:0.4px #222">N/A</div>
<div class="a" id="c_na4" style="left:513.93px;top:392.68px;font-size:21.45px;color:#222;transform:scaleX(0.9582);-webkit-text-stroke:0.4px #222">N/A</div>
<div class="a" id="c_na5" style="left:640.63px;top:392.68px;font-size:21.45px;color:#222;transform:scaleX(0.9702);-webkit-text-stroke:0.4px #222">N/A</div>
<div class="a" id="c_na6" style="left:768.54px;top:392.68px;font-size:21.45px;color:#222;transform:scaleX(0.9615);-webkit-text-stroke:0.4px #222">N/A</div>
<div class="a" id="c_k1" style="left:576.88px;top:360.93px;font-size:18.24px;color:#666;transform:scaleX(1.0591);-webkit-text-stroke:0.3px #666">시가:</div>
<div class="a" id="c_k2" style="left:577.8px;top:395.97px;font-size:16.94px;color:#666;transform:scaleX(1.1277);-webkit-text-stroke:0.3px #666">고가:</div>
<div class="a" id="c_k3" style="left:704.79px;top:360.8px;font-size:17.51px;color:#666;transform:scaleX(1.1020);-webkit-text-stroke:0.3px #666">종가:</div>
<div class="a" id="c_k4" style="left:704.89px;top:394.79px;font-size:17.3px;color:#666;transform:scaleX(1.1135);-webkit-text-stroke:0.3px #666">저가:</div>
<div class="a" id="c_volume" style="left:39.79px;top:923.9px;font-size:24.36px;color:#333;transform:scaleX(0.9140);-webkit-text-stroke:0.3px #333">VOLUME</div>
<div class="a" id="g_168" style="left:1845.78px;top:716.99px;font-size:20.72px;color:#000;transform:scaleX(0.9638);-webkit-text-stroke:0.5px #000">168</div>
<div class="a" id="g_16678" style="left:1845.79px;top:739.96px;font-size:20.29px;color:#000;transform:scaleX(0.9850);-webkit-text-stroke:0.5px #000">166.78</div>
<div class="a" id="g_178" style="left:1845.74px;top:523.5px;font-size:21.3px;color:#fff;transform:scaleX(0.9552);-webkit-text-stroke:0.6px #fff">178</div>
<div class="a" id="y_185" style="left:1851.96px;top:388.87px;font-size:20.87px;color:#2e2e2e;transform:scaleX(0.9775);-webkit-text-stroke:0.4px #2e2e2e">185</div>
<div class="a" id="y_180" style="left:1851.96px;top:484.87px;font-size:20.87px;color:#2e2e2e;transform:scaleX(0.9681);-webkit-text-stroke:0.4px #2e2e2e">180</div>
<div class="a" id="y_175" style="left:1851.96px;top:580.87px;font-size:20.87px;color:#2e2e2e;transform:scaleX(0.9775);-webkit-text-stroke:0.4px #2e2e2e">175</div>
<div class="a" id="y_170" style="left:1851.96px;top:676.87px;font-size:20.87px;color:#2e2e2e;transform:scaleX(0.9681);-webkit-text-stroke:0.4px #2e2e2e">170</div>
<div class="a" id="y_165" style="left:1851.96px;top:772.87px;font-size:20.87px;color:#2e2e2e;transform:scaleX(0.9775);-webkit-text-stroke:0.4px #2e2e2e">165</div>
<div class="a" id="y_160" style="left:1851.96px;top:868.87px;font-size:20.87px;color:#2e2e2e;transform:scaleX(0.9681);-webkit-text-stroke:0.4px #2e2e2e">160</div>
<div class="a" id="v_7" style="left:1851.57px;top:944.61px;font-size:20.57px;color:#2e2e2e;transform:scaleX(0.9982);-webkit-text-stroke:0.4px #2e2e2e">7.50m</div>
<div class="a" id="v_5" style="left:1851.78px;top:988.61px;font-size:20.57px;color:#2e2e2e;transform:scaleX(0.9977);-webkit-text-stroke:0.4px #2e2e2e">5.00m</div>
<div class="a" id="v_2" style="left:1851.57px;top:1032.61px;font-size:20.57px;color:#2e2e2e;transform:scaleX(0.9977);-webkit-text-stroke:0.4px #2e2e2e">2.50m</div>
<div class="a" id="v_0" style="left:1851.8px;top:1076.86px;font-size:20.28px;color:#2e2e2e;transform:scaleX(0.9282);-webkit-text-stroke:0.4px #2e2e2e">0</div>
<div id="xax">
<div class="a" id="x_113" style="left:89.91px;top:1113.94px;font-size:24.72px;color:#666;transform:scaleX(0.9523);-webkit-text-stroke:0.4px #666">6:00</div>
<div class="a" id="x_305" style="left:274.94px;top:1113.94px;font-size:24.72px;color:#666;transform:scaleX(0.9692);-webkit-text-stroke:0.4px #666">12:00</div>
<div class="a" id="x_497" style="left:466.9px;top:1113.94px;font-size:24.72px;color:#666;transform:scaleX(0.9676);-webkit-text-stroke:0.4px #666">18:00</div>
<div class="a" id="x_681" style="left:648.41px;top:1113.94px;font-size:24.72px;color:#444;letter-spacing:0.999px;-webkit-text-stroke:0.4px #444">11/17</div>
<div class="a" id="x_881" style="left:857.91px;top:1113.94px;font-size:24.72px;color:#666;transform:scaleX(0.9523);-webkit-text-stroke:0.4px #666">6:00</div>
<div class="a" id="x_1073" style="left:1042.94px;top:1113.94px;font-size:24.72px;color:#666;transform:scaleX(0.9692);-webkit-text-stroke:0.4px #666">12:00</div>
<div class="a" id="x_1265" style="left:1234.9px;top:1113.94px;font-size:24.72px;color:#666;transform:scaleX(0.9676);-webkit-text-stroke:0.4px #666">18:00</div>
<div class="a" id="x_1449" style="left:1416.41px;top:1113.94px;font-size:24.72px;color:#444;letter-spacing:1.003px;-webkit-text-stroke:0.4px #444">11/18</div>
<div class="a" id="x_1649" style="left:1625.91px;top:1113.94px;font-size:24.72px;color:#666;transform:scaleX(0.9523);-webkit-text-stroke:0.4px #666">6:00</div>
<div class="a" id="x_1841" style="left:1810.94px;top:1113.94px;font-size:24.72px;color:#666;transform:scaleX(0.9692);-webkit-text-stroke:0.4px #666">12:00</div>
</div>
<div style="position:absolute;left:0;top:1158px;width:1976px;height:4px;background:#d4d6db"></div>
</body>
</html>
